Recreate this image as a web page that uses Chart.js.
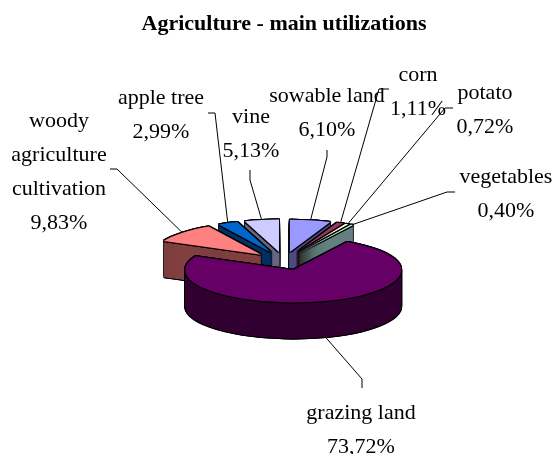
<!DOCTYPE html>
<html>
<head>
<meta charset="utf-8">
<style>
  html, body { margin: 0; padding: 0; background: #fff; }
  #wrap { width: 555px; height: 454px; }
</style>
<script src="https://cdn.jsdelivr.net/npm/chart.js@4/dist/chart.umd.min.js"></script>
</head>
<body>
<div id="wrap"><canvas id="pie"></canvas></div>
<script>
const categories = ['sowable land', 'corn', 'potato', 'vegetables', 'grazing land', 'woody agriculture cultivation', 'apple tree', 'vine'];
const shares = [6.10, 1.11, 0.72, 0.40, 73.72, 9.83, 2.99, 5.13];
const faceColors = ['#9999FF', '#993366', '#FFFFCC', '#CCFFFF', '#660066', '#FF8080', '#0066CC', '#CCCCFF'];
const wallColors = ['#4D4D80', '#4D1A33', '#808066', '#668080', '#330033', '#804040', '#003366', '#666680'];

// how each label wraps, and where it sits on the page
const labelLines = [['sowable land'], ['corn'], ['potato'], ['vegetables'], ['grazing land'], ['woody', 'agriculture', 'cultivation'], ['apple tree'], ['vine']];
const labelSpots = [[327, 96], [418, 75], [485, 93], [506, 177], [361, 413], [59, 121], [161, 98], [251, 117]];
const leaderBends = [
    [[327, 157], [327, 150]],
    [[379, 89], [389, 89]],
    [[445, 108], [453, 108]],
    [[447, 192], [455, 192]],
    [[362, 379], [362, 388]],
    [[117, 169], [110, 169]],
    [[215, 113], [208, 113]],
    [[250, 180], [250, 170]],
];

const TILT = 0.3;
const EXPLODE = 31;
const DEPTH = 36;
const LINE_STEP = 34;
const RING = [[-1, 0], [1, 0], [0, -1], [0, 1], [-1, -1], [1, -1], [-1, 1], [1, 1]];

function paintArc(ctx, arc, color, dx, dy) {
    const mid = (arc.startAngle + arc.endAngle) / 2;
    const saved = arc.options;
    arc.options = { ...saved, backgroundColor: color };
    ctx.save();
    ctx.translate(arc.x + dx, arc.y + dy);
    ctx.scale(1, TILT);
    ctx.translate(Math.cos(mid) * EXPLODE, Math.sin(mid) * EXPLODE);
    ctx.translate(-arc.x, -arc.y);
    arc.draw(ctx);
    ctx.restore();
    arc.options = saved;
}

const tiltedPie = {
    id: 'tiltedPie',
    beforeDatasetsDraw(chart) {
        const ctx = chart.ctx;
        const arcs = chart.getDatasetMeta(0).data;
        // back slices first, so the nearer ones cover them
        const order = arcs.map((arc, i) => i).sort((a, b) => {
            const ya = Math.sin((arcs[a].startAngle + arcs[a].endAngle) / 2);
            const yb = Math.sin((arcs[b].startAngle + arcs[b].endAngle) / 2);
            return ya - yb;
        });
        order.forEach(i => {
            const arc = arcs[i];
            for (let d = DEPTH; d >= 0; d--) {
                RING.forEach(r => paintArc(ctx, arc, '#000', r[0], d + r[1]));
            }
            // fine steps: the thin slices leave black gaps at 1px
            for (let d = DEPTH; d >= 0.25; d -= 0.25) {
                paintArc(ctx, arc, wallColors[i], 0, d);
            }
            RING.forEach(r => paintArc(ctx, arc, '#000', r[0], r[1]));
            paintArc(ctx, arc, faceColors[i], 0, 0);
        });
        return false;
    },
    afterDraw(chart) {
        const ctx = chart.ctx;
        const arcs = chart.getDatasetMeta(0).data;
        ctx.save();

        // leader lines, from the rim of each slice to its bend
        ctx.strokeStyle = '#000';
        ctx.lineWidth = 1;
        arcs.forEach((arc, i) => {
            const mid = (arc.startAngle + arc.endAngle) / 2;
            const drop = Math.sin(mid) > 0.8 ? DEPTH : 0;
            const rimX = arc.x + Math.cos(mid) * (EXPLODE + arc.outerRadius);
            const rimY = arc.y + Math.sin(mid) * (EXPLODE + arc.outerRadius) * TILT + drop;
            ctx.beginPath();
            ctx.moveTo(rimX, rimY);
            leaderBends[i].forEach(p => ctx.lineTo(p[0], p[1]));
            ctx.stroke();
        });

        ctx.fillStyle = '#000';
        ctx.font = '22px "Liberation Serif"';
        ctx.textAlign = 'center';
        ctx.textBaseline = 'middle';
        categories.forEach((name, i) => {
            const lines = labelLines[i].concat(shares[i].toFixed(2).replace('.', ',') + '%');
            lines.forEach((text, n) => {
                ctx.fillText(text, labelSpots[i][0], labelSpots[i][1] + n * LINE_STEP);
            });
        });
        ctx.restore();
    }
};

new Chart(document.getElementById('pie'), {
    type: 'pie',
    data: {
        labels: categories,
        datasets: [{
            data: shares,
            backgroundColor: faceColors,
            borderWidth: 0,
        }]
    },
    options: {
        responsive: true,
        maintainAspectRatio: false,
        animation: false,
        events: [],
        radius: 108,
        layout: { padding: { left: 13 } },
        plugins: {
            legend: { display: false },
            tooltip: { enabled: false },
            title: {
                display: true,
                text: 'Agriculture - main utilizations',
                color: '#000',
                font: { family: '"Liberation Serif"', size: 22, weight: 'bold' },
                padding: { top: 11, bottom: 31 },
            }
        }
    },
    plugins: [tiltedPie]
});
</script>
</body>
</html>
